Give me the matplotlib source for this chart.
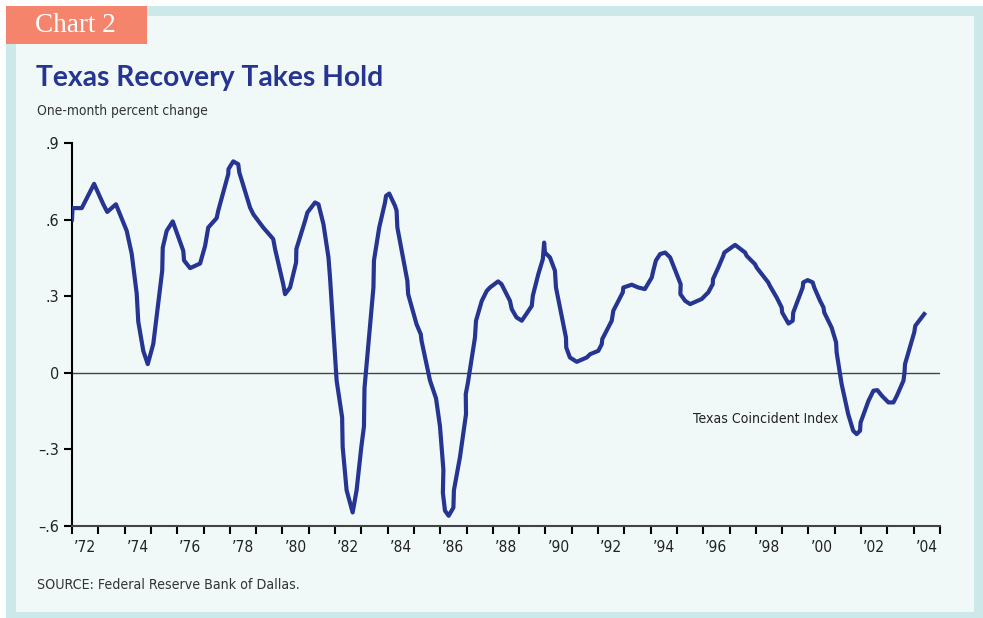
import matplotlib
matplotlib.use("Agg")
import matplotlib.pyplot as plt
from matplotlib.patches import Rectangle
from matplotlib import font_manager

# (year, one-month % change)
years = [1972.0, 1972.02, 1972.37, 1972.84, 1973.19, 1973.34, 1973.67, 1974.08, 1974.27,
         1974.46, 1974.52, 1974.71, 1974.88, 1975.09, 1975.43, 1975.45, 1975.6, 1975.83,
         1976.23, 1976.26, 1976.49, 1976.87, 1977.06, 1977.18, 1977.5, 1977.56, 1977.94,
         1977.95, 1978.13, 1978.32, 1978.36, 1978.77, 1978.9, 1979.27, 1979.65, 1979.72,
         1980.03, 1980.1, 1980.29, 1980.52, 1980.53, 1980.86, 1980.95, 1981.24, 1981.37,
         1981.56, 1981.75, 1981.81, 1982.06, 1982.27, 1982.29, 1982.44, 1982.67, 1982.82,
         1983.0, 1983.1, 1983.12, 1983.46, 1983.48, 1983.68, 1983.9, 1983.94, 1984.06,
         1984.28, 1984.34, 1984.37, 1984.75, 1984.78, 1985.1, 1985.26, 1985.29, 1985.61,
         1985.84, 1985.99, 1986.12, 1986.1, 1986.18, 1986.32, 1986.5, 1986.52, 1986.75,
         1986.98, 1986.97, 1987.05, 1987.32, 1987.36, 1987.58, 1987.77, 1987.89, 1988.2,
         1988.33, 1988.65, 1988.72, 1988.9, 1989.1, 1989.48, 1989.52, 1989.73, 1989.9,
         1989.95, 1989.98, 1990.17, 1990.36, 1990.4, 1990.78, 1990.79, 1990.93, 1991.19,
         1991.57, 1991.7, 1992.01, 1992.14, 1992.16, 1992.52, 1992.58, 1992.94, 1992.96,
         1993.28, 1993.53, 1993.78, 1994.04, 1994.1, 1994.2, 1994.36, 1994.55, 1994.74,
         1994.99, 1995.14, 1995.13, 1995.31, 1995.5, 1995.94, 1996.19, 1996.36, 1996.37,
         1996.57, 1996.76, 1996.8, 1997.21, 1997.59, 1997.65, 1997.97, 1998.03, 1998.47,
         1998.53, 1998.79, 1998.98, 1999.0, 1999.24, 1999.4, 1999.42, 1999.78, 1999.8,
         1999.97, 2000.16, 2000.22, 2000.44, 2000.57, 2000.6, 2000.88, 2001.05, 2001.07,
         2001.26, 2001.51, 2001.7, 2001.83, 2001.96, 2001.98, 2002.28, 2002.47, 2002.62,
         2002.79, 2003.04, 2003.23, 2003.36, 2003.61, 2003.65, 2003.67, 2004.02, 2004.06,
         2004.4]
values = [0.60, 0.645, 0.645, 0.74, 0.66, 0.63, 0.66, 0.556, 0.466,
          0.31, 0.20, 0.086, 0.034, 0.113, 0.40, 0.49, 0.556, 0.593,
          0.478, 0.44, 0.41, 0.428, 0.497, 0.569, 0.606, 0.635, 0.778,
          0.798, 0.828, 0.817, 0.785, 0.647, 0.62, 0.569, 0.524, 0.485,
          0.347, 0.308, 0.334, 0.432, 0.485, 0.595, 0.628, 0.667, 0.66,
          0.582, 0.452, 0.373, -0.03, -0.175, -0.29, -0.46, -0.547, -0.46,
          -0.29, -0.21, -0.06, 0.334, 0.44, 0.569, 0.667, 0.693, 0.702,
          0.654, 0.635, 0.569, 0.36, 0.308, 0.19, 0.151, 0.125, -0.03,
          -0.1, -0.21, -0.38, -0.47, -0.54, -0.56, -0.528, -0.46, -0.33,
          -0.162, -0.083, -0.04, 0.138, 0.204, 0.282, 0.321, 0.334, 0.358,
          0.347, 0.282, 0.249, 0.217, 0.204, 0.262, 0.302, 0.387, 0.445,
          0.51, 0.471, 0.452, 0.40, 0.334, 0.138, 0.099, 0.06, 0.043,
          0.06, 0.073, 0.086, 0.112, 0.132, 0.204, 0.243, 0.315, 0.334,
          0.345, 0.334, 0.328, 0.373, 0.40, 0.44, 0.465, 0.471, 0.452,
          0.387, 0.347, 0.308, 0.282, 0.269, 0.289, 0.315, 0.347, 0.367,
          0.412, 0.458, 0.471, 0.501, 0.471, 0.458, 0.425, 0.412, 0.354,
          0.341, 0.295, 0.256, 0.236, 0.193, 0.204, 0.236, 0.334, 0.354,
          0.363, 0.354, 0.334, 0.282, 0.256, 0.236, 0.177, 0.119, 0.08,
          -0.044, -0.162, -0.227, -0.24, -0.227, -0.195, -0.11, -0.07, -0.068,
          -0.09, -0.116, -0.116, -0.09, -0.031, 0.0, 0.034, 0.158, 0.184,
          0.23]

yticks = [-0.6, -0.3, 0, 0.3, 0.6, 0.9]
ylabels = ["\u2013.6", "\u2013.3", "0", ".3", ".6", ".9"]
label_years = list(range(1972, 2005, 2))
xlabels = ["\u2019%02d" % (y % 100) for y in label_years]

NAVY = "#263591"
TEAL = "#cde8e8"
PANEL = "#f1f9f8"
SALMON = "#f5846d"

# condensed face if there is one, else plain DejaVu
names = set(f.name for f in font_manager.fontManager.ttflist)
if "Liberation Sans Narrow" in names:
    NARROW = dict(family="Liberation Sans Narrow")
else:
    NARROW = dict(family="DejaVu Sans", stretch="condensed")

W, H = 983, 618
fig = plt.figure(figsize=(W / 100, H / 100), dpi=100)
fig.patch.set_facecolor("white")

# frame drawn in pixel coords
bg = fig.add_axes([0, 0, 1, 1])
bg.set_xlim(0, W)
bg.set_ylim(H, 0)
bg.axis("off")
bg.add_patch(Rectangle((6, 6), W - 6, H - 6, facecolor=TEAL, edgecolor="none"))
bg.add_patch(Rectangle((16, 16), 958, 596, facecolor=PANEL, edgecolor="none"))
bg.add_patch(Rectangle((6, 6), 141, 38, facecolor=SALMON, edgecolor="none"))
bg.text(35, 25, "Chart 2", color="white", fontsize=19.5, family="Liberation Serif",
        va="center", ha="left")
bg.text(36, 78, "Texas Recovery Takes Hold", color=NAVY, fontsize=20.3,
        family=["Lato", "DejaVu Sans"], fontweight="bold", va="center", ha="left")
bg.text(37, 111, "One-month percent change", color="#333333", fontsize=9.9,
        va="center", ha="left", **NARROW)
bg.text(37, 585, "SOURCE: Federal Reserve Bank of Dallas.", color="#333333",
        fontsize=10.2, va="center", ha="left", **NARROW)

ax = fig.add_axes([72 / W, 1 - 526 / H, 868 / W, 383 / H])
ax.set_facecolor("none")
ax.plot(years, values, color=NAVY, lw=3.0, solid_joinstyle="round", zorder=3)
ax.axhline(0, color="#444444", lw=1.0, zorder=2)

ax.set_xlim(1972, 2005)
ax.set_ylim(-0.6, 0.9)
for s in ["top", "right"]:
    ax.spines[s].set_visible(False)
ax.spines["left"].set_linewidth(1.5)
ax.spines["bottom"].set_linewidth(1.5)
ax.spines["bottom"].set_color("#444444")

ax.set_yticks(yticks)
ax.set_yticklabels(ylabels, fontsize=11.5, color="#222222", **NARROW)
ax.set_xticks(range(1972, 2006))
ax.set_xticklabels([])
ax.set_xticks([y + 0.5 for y in label_years], minor=True)
ax.set_xticklabels(xlabels, minor=True, fontsize=11.2, color="#222222", **NARROW)
ax.tick_params(axis="y", length=6, width=1.5, pad=3)
ax.tick_params(axis="x", which="major", length=6, width=1.5)
ax.tick_params(axis="x", which="minor", length=0, pad=10)

ax.text(2001.15, -0.18, "Texas Coincident Index", fontsize=10.1,
        color="#222222", ha="right", va="center", **NARROW)

fig.savefig("out.png", dpi=100, facecolor=fig.get_facecolor())
